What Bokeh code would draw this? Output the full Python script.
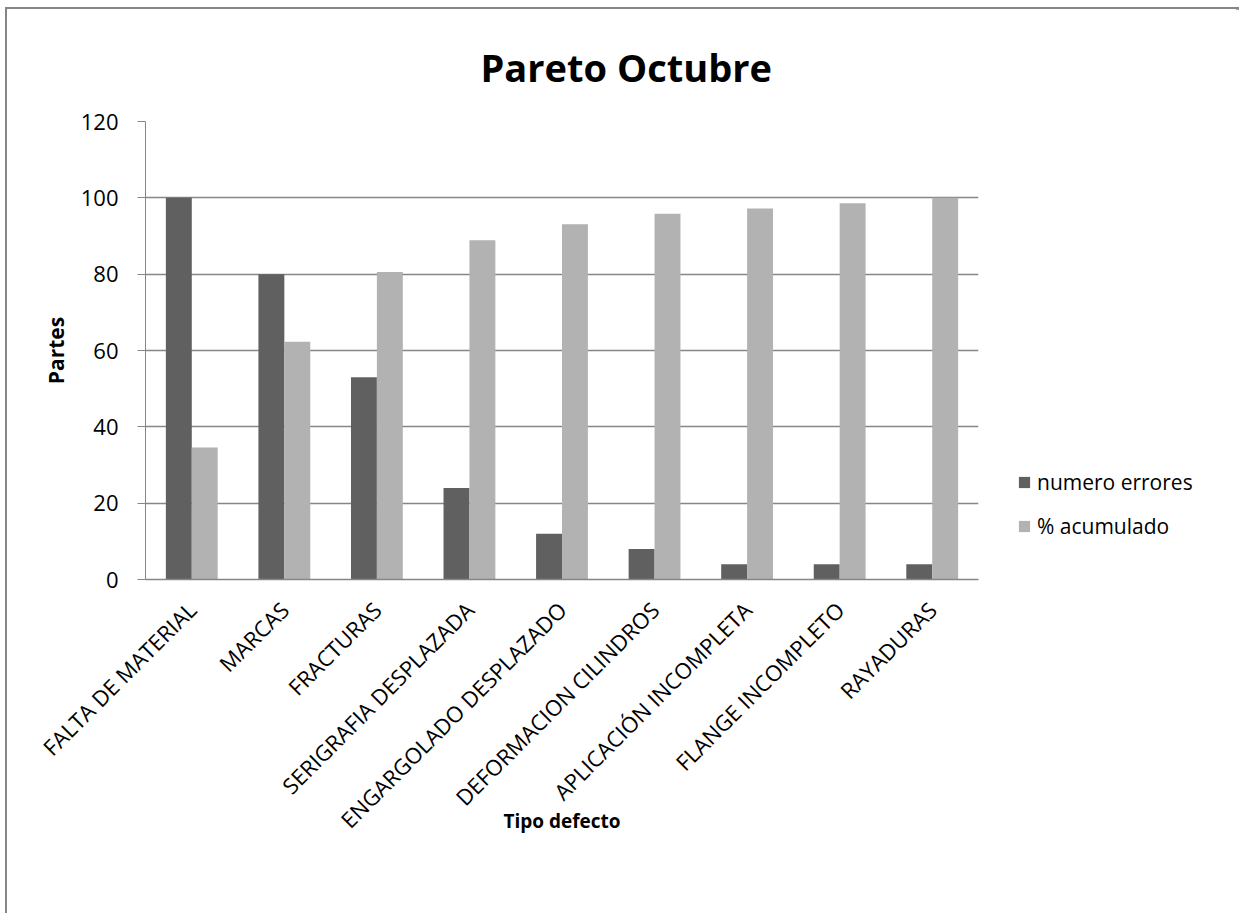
from math import pi
from bokeh.plotting import figure
from bokeh.models import ColumnDataSource, FactorRange, Range1d, Legend, LegendItem, FixedTicker
from bokeh.transform import dodge
from bokeh.embed import file_html
from bokeh.resources import INLINE

categories = ["FALTA DE MATERIAL", "MARCAS", "FRACTURAS", "SERIGRAFIA DESPLAZADA",
              "ENGARGOLADO DESPLAZADO", "DEFORMACION CILINDROS", "APLICACIÓN INCOMPLETA",
              "FLANGE INCOMPLETO", "RAYADURAS"]
numero_errores = [100, 80, 53, 24, 12, 8, 4, 4, 4]
acumulado = [34.6, 62.3, 80.6, 88.9, 93.1, 95.8, 97.2, 98.6, 100.0]
y_ticks = [0, 20, 40, 60, 80, 100, 120]

FONT = "Open Sans"
GRID = "#868686"

src = ColumnDataSource(dict(cat=categories, err=numero_errores, acu=acumulado))

p = figure(x_range=FactorRange(*categories), y_range=Range1d(0, 120),
           frame_width=833, frame_height=458, output_backend="svg", toolbar_location=None,
           min_border_left=138, min_border_right=256, min_border_top=111, min_border_bottom=334)
p.styles = {"margin-left": "5px", "margin-top": "7px",
            "box-sizing": "border-box", "width": "1234px", "max-width": "1234px",
            "border-top": "2px solid #868686", "border-left": "2px solid #868686",
            "border-right": "3px solid #868686"}

r1 = p.vbar(x=dodge("cat", -0.14, range=p.x_range), top="err", width=0.28, source=src,
            fill_color="#606060", line_color=None)
r2 = p.vbar(x=dodge("cat", 0.14, range=p.x_range), top="acu", width=0.28, source=src,
            fill_color="#b2b2b2", line_color=None)

p.title.text = "Pareto Octubre"
p.title.text_font = FONT
p.title.text_font_size = "38px"
p.title.text_font_style = "bold"
p.title.align = "left"
p.title.offset = 335
p.title.standoff = 58
p.title.text_color = "black"

p.outline_line_color = None
p.xgrid.grid_line_color = None
p.ygrid.grid_line_color = GRID
p.ygrid.grid_line_width = 1.3

p.yaxis.ticker = FixedTicker(ticks=y_ticks)
p.yaxis.axis_line_color = GRID
p.yaxis.major_tick_line_color = GRID
p.yaxis.major_tick_out = 8
p.yaxis.major_tick_in = 0
p.yaxis.minor_tick_line_color = None
p.yaxis.major_label_standoff = 19
p.yaxis.major_label_text_font = FONT
p.yaxis.major_label_text_font_size = "22px"
p.yaxis.major_label_text_color = "black"
p.yaxis.axis_label = "Partes"
p.yaxis.axis_label_text_font = FONT
p.yaxis.axis_label_text_font_size = "21px"
p.yaxis.axis_label_text_font_style = "bold"
p.yaxis.axis_label_text_color = "black"
p.yaxis.axis_label_standoff = 8

p.xaxis.axis_line_color = GRID
p.xaxis.axis_line_width = 1.3
p.xaxis.major_tick_line_color = None
p.xaxis.major_label_orientation = pi / 4
p.xaxis.major_label_standoff = 20
p.xaxis.major_label_text_font = FONT
p.xaxis.major_label_text_font_size = "22px"
p.xaxis.major_label_text_color = "black"
p.xaxis.axis_label = "Tipo defecto"
p.xaxis.axis_label_text_font = FONT
p.xaxis.axis_label_text_font_size = "19px"
p.xaxis.axis_label_text_font_style = "bold"
p.xaxis.axis_label_text_color = "black"
p.xaxis.axis_label_standoff = -40

legend = Legend(items=[LegendItem(label="numero errores", renderers=[r1]),
                       LegendItem(label="% acumulado", renderers=[r2])],
                location="bottom_left")
legend.border_line_color = None
legend.background_fill_alpha = 0
legend.padding = 0
legend.margin = 39
legend.glyph_width = 14
legend.glyph_height = 14
legend.label_height = 24
legend.spacing = 16
legend.label_standoff = 6
legend.label_text_font = FONT
legend.label_text_font_size = "21px"
legend.label_text_color = "black"
p.add_layout(legend, "right")

open("out.html", "w").write(file_html(p, INLINE))
